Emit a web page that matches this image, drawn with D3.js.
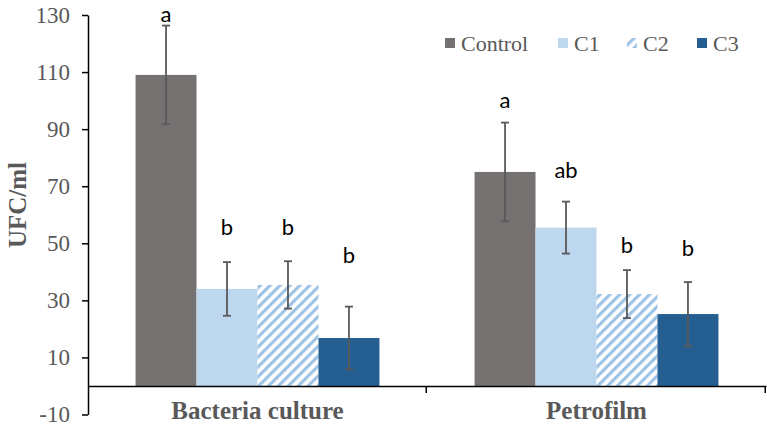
<!DOCTYPE html>
<html><head><meta charset="utf-8">
<script src="https://cdn.jsdelivr.net/npm/d3@7"></script>
<style>html,body{margin:0;padding:0;background:#fff;}</style>
</head><body>
<svg id="chart" width="767" height="426"></svg>
<script>
const categories = ["Bacteria culture", "Petrofilm"];
const series = ["Control", "C1", "C2", "C3"];
const valuesBacteria = [109, 34, 35.4, 16.8];
const valuesPetrofilm = [75, 55.5, 32.2, 25.2];
const errorsBacteria = [17.3, 9.4, 8.3, 11];
const errorsPetrofilm = [17.3, 9.1, 8.4, 11.2];
const lettersBacteria = ["a", "b", "b", "b"];
const lettersPetrofilm = ["a", "ab", "b", "b"];
const letterValBacteria = [127.6, 53, 53, 43.1];
const letterValPetrofilm = [97.4, 72.9, 46.5, 45.4];
const yTicks = [-10, 10, 30, 50, 70, 90, 110, 130];
const colors = {Control: "#767171", C1: "#BDD7EE", C2: "url(#hatch)", C3: "#255E91"};

const svg = d3.select("#chart");
const defs = svg.append("defs");
const pat = defs.append("pattern").attr("id", "hatch").attr("patternUnits", "userSpaceOnUse")
  .attr("width", 7).attr("height", 7).attr("patternTransform", "rotate(45)");
pat.append("rect").attr("width", 7).attr("height", 7).attr("fill", "#fff");
pat.append("rect").attr("x", 0).attr("width", 3.2).attr("height", 7).attr("fill", "#9DC3E6");

const y = d3.scaleLinear().domain([-10, 130]).range([414.5, 15]);
const x0 = d3.scaleBand().domain(categories).range([88, 766]).paddingInner(0).paddingOuter(0);
const x1 = d3.scaleBand().domain(series).range([0, x0.bandwidth()]).paddingInner(0).paddingOuter(0.78);

const data = categories.map((c, i) => ({
  cat: c,
  vals: series.map((s, j) => ({
    s,
    v: i === 0 ? valuesBacteria[j] : valuesPetrofilm[j],
    e: i === 0 ? errorsBacteria[j] : errorsPetrofilm[j],
    l: i === 0 ? lettersBacteria[j] : lettersPetrofilm[j],
    lv: i === 0 ? letterValBacteria[j] : letterValPetrofilm[j]
  }))
}));

const groups = svg.append("g").selectAll("g").data(data).join("g")
  .attr("transform", d => `translate(${x0(d.cat)},0)`);

groups.selectAll("rect.bar").data(d => d.vals).join("rect").attr("class", "bar")
  .attr("x", d => x1(d.s)).attr("width", x1.bandwidth())
  .attr("y", d => y(d.v)).attr("height", d => y(0) - y(d.v))
  .attr("fill", d => colors[d.s]);

// error bars
const eb = groups.selectAll("g.err").data(d => d.vals).join("g").attr("class", "err")
  .attr("stroke", "#595959").attr("stroke-width", 1.8);
eb.append("line").attr("x1", d => x1(d.s) + x1.bandwidth() / 2).attr("x2", d => x1(d.s) + x1.bandwidth() / 2)
  .attr("y1", d => y(d.v + d.e)).attr("y2", d => y(d.v - d.e));
eb.append("line").attr("x1", d => x1(d.s) + x1.bandwidth() / 2 - 4).attr("x2", d => x1(d.s) + x1.bandwidth() / 2 + 4)
  .attr("y1", d => y(d.v + d.e)).attr("y2", d => y(d.v + d.e));
eb.append("line").attr("x1", d => x1(d.s) + x1.bandwidth() / 2 - 4).attr("x2", d => x1(d.s) + x1.bandwidth() / 2 + 4)
  .attr("y1", d => y(d.v - d.e)).attr("y2", d => y(d.v - d.e));

// letters
groups.selectAll("text.let").data(d => d.vals).join("text").attr("class", "let")
  .attr("x", d => x1(d.s) + x1.bandwidth() / 2).attr("y", d => y(d.lv))
  .attr("text-anchor", "middle").attr("font-family", "Lato, sans-serif")
  .attr("font-size", 22).attr("fill", "#000").text(d => d.l);

// y axis
const yAxis = svg.append("g").attr("transform", "translate(88,0)")
  .call(d3.axisLeft(y).tickValues(yTicks).tickFormat(d => String(d)).tickSize(6).tickPadding(12).tickSizeOuter(0));
yAxis.select(".domain").attr("stroke", "#000").attr("stroke-width", 1.5);
yAxis.selectAll(".tick line").attr("stroke", "#000").attr("stroke-width", 1.5);
yAxis.selectAll(".tick text").attr("font-family", "'Liberation Serif', serif").attr("font-size", 23).attr("fill", "#595959");

// x axis at zero
const xAxis = svg.append("g").attr("transform", `translate(0,${y(0)})`)
  .call(d3.axisBottom(x0).tickSize(0).tickFormat(""));
xAxis.select(".domain").attr("stroke", "#000").attr("stroke-width", 1.5);
const bounds = [x0(categories[0]) + x0.bandwidth(), x0(categories[1]) + x0.bandwidth()];
xAxis.selectAll("line.sep").data(bounds).join("line").attr("class", "sep")
  .attr("x1", d => d - 0.75).attr("x2", d => d - 0.75).attr("y1", 0).attr("y2", 7)
  .attr("stroke", "#000").attr("stroke-width", 1.5);

// category labels
svg.append("g").selectAll("text").data(categories).join("text")
  .attr("x", d => x0(d) + x0.bandwidth() / 2).attr("y", 419)
  .attr("text-anchor", "middle").attr("font-family", "'Liberation Serif', serif")
  .attr("font-weight", "bold").attr("font-size", 25).attr("fill", "#595959").text(d => d);

// y label
svg.append("text").attr("transform", "translate(26,205) rotate(-90)")
  .attr("text-anchor", "middle").attr("font-family", "'Liberation Serif', serif")
  .attr("font-weight", "bold").attr("font-size", 25).attr("fill", "#595959").text("UFC/ml");

// legend
const legX = [445, 558, 627, 697];
const leg = svg.append("g").selectAll("g").data(series).join("g")
  .attr("transform", (d, i) => `translate(${legX[i]},43)`);
leg.append("rect").attr("x", 0).attr("y", -5).attr("width", 10).attr("height", 10)
  .attr("fill", d => colors[d]);
leg.append("text").attr("x", 16).attr("y", 7.5).attr("font-family", "'Liberation Serif', serif")
  .attr("font-size", 22).attr("fill", "#595959").text(d => d);
</script>
</body></html>
